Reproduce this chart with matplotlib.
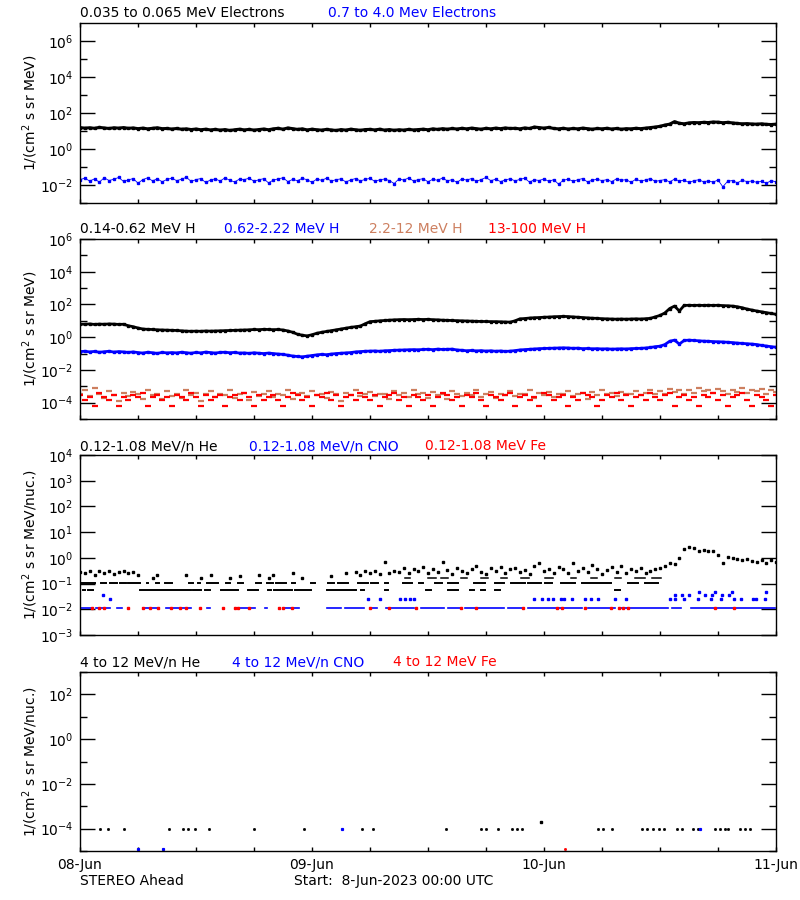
import numpy as np
import matplotlib
matplotlib.use('Agg')
import matplotlib.pyplot as plt
from matplotlib.ticker import FixedLocator, LogFormatterMathtext, NullFormatter

plt.rcParams['font.family'] = ['DejaVu Sans']
plt.rcParams['mathtext.fontset'] = 'dejavusans'
plt.rcParams['font.size'] = 10

# half-hour time steps, hours since 8-Jun-2023 00:00 UTC
hours = np.arange(0, 72.5, 0.5)
day_labels = ['08-Jun', '09-Jun', '10-Jun', '11-Jun']

# ---- panel 1: electrons, log10 flux ----
e_low_log = [1.19, 1.16, 1.18, 1.15, 1.2, 1.17, 1.14, 1.18, 1.16, 1.19,
             1.15, 1.17, 1.13, 1.16, 1.12, 1.15, 1.18, 1.13, 1.14, 1.11,
             1.14, 1.1, 1.12, 1.08, 1.11, 1.07, 1.1, 1.06, 1.09, 1.05,
             1.08, 1.03, 1.07, 1.1, 1.06, 1.09, 1.05, 1.08, 1.11, 1.07,
             1.12, 1.15, 1.1, 1.17, 1.13, 1.09, 1.12, 1.06, 1.1, 1.07,
             1.05, 1.09, 1.06, 1.03, 1.08, 1.05, 1.1, 1.07, 1.04, 1.08,
             1.09, 1.06, 1.1, 1.05, 1.08, 1.04, 1.07, 1.05, 1.09, 1.06,
             1.08, 1.1, 1.07, 1.12, 1.09, 1.13, 1.1, 1.14, 1.11, 1.15,
             1.12, 1.16, 1.13, 1.1, 1.15, 1.12, 1.16, 1.13, 1.17, 1.14,
             1.15, 1.12, 1.17, 1.14, 1.22, 1.19, 1.16, 1.2, 1.14, 1.12,
             1.15, 1.11, 1.14, 1.12, 1.16, 1.13, 1.1, 1.14, 1.12, 1.15,
             1.11, 1.14, 1.1, 1.13, 1.12, 1.15, 1.13, 1.16, 1.19, 1.22,
             1.26, 1.33, 1.38, 1.52, 1.43, 1.4, 1.45, 1.47, 1.46, 1.48,
             1.47, 1.5, 1.49, 1.46, 1.48, 1.45, 1.42, 1.4, 1.41, 1.39,
             1.38, 1.4, 1.37, 1.36, 1.38]
e_high_log = [-1.7, -1.62, -1.78, -1.66, -1.84, -1.6, -1.75, -1.68, -1.58, -1.8,
              -1.72, -1.64, -1.9, -1.7, -1.6, -1.77, -1.66, -1.82, -1.69, -1.62,
              -1.76, -1.68, -1.57, -1.8, -1.7, -1.64, -1.86, -1.72, -1.66, -1.78,
              -1.6, -1.74, -1.83, -1.67, -1.7, -1.62, -1.79, -1.71, -1.65, -1.88,
              -1.73, -1.66, -1.6, -1.81, -1.69, -1.76, -1.63, -1.71, -1.85, -1.67,
              -1.74, -1.62, -1.78, -1.7, -1.66, -1.83, -1.72, -1.64, -1.77, -1.69,
              -1.63, -1.8, -1.71, -1.67, -1.75, -1.92, -1.66, -1.73, -1.6, -1.78,
              -1.7, -1.65, -1.82, -1.68, -1.74, -1.61, -1.77, -1.7, -1.86, -1.66,
              -1.73, -1.64, -1.79, -1.7, -1.58, -1.76, -1.68, -1.81, -1.72, -1.65,
              -1.77, -1.69, -1.62, -1.84, -1.71, -1.75, -1.66, -1.8, -1.7, -1.95,
              -1.74, -1.67, -1.79, -1.71, -1.64, -1.83, -1.73, -1.68, -1.76, -1.7,
              -1.81, -1.66, -1.74, -1.7, -1.85, -1.68, -1.78, -1.72, -1.64, -1.8,
              -1.75, -1.7, -1.83, -1.67, -1.78, -1.73, -1.86, -1.76, -1.71, -1.82,
              -1.77, -1.84, -1.72, -2.1, -1.79, -1.75, -1.88, -1.74, -1.81, -1.78,
              -1.85, -1.79, -1.9, -1.76, -1.82]

# ---- panel 2: protons, log10 flux ----
h1_log = [0.8, 0.79, 0.81, 0.78, 0.8, 0.79, 0.81, 0.8, 0.78, 0.79,
          0.7, 0.64, 0.56, 0.5, 0.48, 0.47, 0.45, 0.44, 0.43, 0.42,
          0.41, 0.39, 0.37, 0.36, 0.37, 0.36, 0.38, 0.37, 0.38, 0.39,
          0.4, 0.41, 0.42, 0.43, 0.44, 0.45, 0.47, 0.46, 0.48, 0.47,
          0.46, 0.47, 0.44, 0.38, 0.3, 0.18, 0.12, 0.08, 0.15, 0.24,
          0.3, 0.35, 0.4, 0.45, 0.5, 0.55, 0.6, 0.64, 0.68, 0.82,
          0.95, 0.97, 1.0, 1.02, 1.04, 1.06, 1.07, 1.08, 1.07, 1.08,
          1.09, 1.08, 1.09, 1.07, 1.06, 1.04, 1.03, 1.02, 1.01, 1.0,
          0.99, 0.98, 0.97, 0.96, 0.96, 0.95, 0.95, 0.94, 0.93, 0.92,
          1.0, 1.12, 1.14, 1.17, 1.19, 1.2, 1.22, 1.23, 1.25, 1.26,
          1.27, 1.26, 1.24, 1.22, 1.2, 1.18, 1.16, 1.15, 1.13, 1.12,
          1.11, 1.1, 1.11, 1.1, 1.11, 1.12, 1.11, 1.13, 1.15, 1.24,
          1.33, 1.48, 1.75, 1.9, 1.6, 1.94, 1.95, 1.94, 1.95, 1.94,
          1.95, 1.94, 1.95, 1.93, 1.92, 1.9, 1.86, 1.8, 1.72, 1.66,
          1.6, 1.55, 1.5, 1.45, 1.4]
h2_log = [-0.88, -0.86, -0.9, -0.87, -0.92, -0.89, -0.86, -0.91, -0.88, -0.9,
          -0.93, -0.9, -0.94, -0.97, -0.92, -0.95, -0.99, -0.93, -0.96, -0.94,
          -0.96, -0.92, -0.95, -0.98, -0.93, -0.96, -0.91, -0.94, -0.97, -0.93,
          -0.92, -0.95, -0.93, -0.97, -0.96, -0.99, -0.95, -0.98, -1.0, -0.97,
          -1.0, -1.03, -1.05, -1.1, -1.15, -1.18, -1.2, -1.16, -1.12, -1.08,
          -1.05, -1.07, -1.03, -1.0, -0.98, -0.96, -0.94, -0.9, -0.88, -0.86,
          -0.85, -0.84, -0.86, -0.83, -0.82, -0.8, -0.79, -0.78, -0.77, -0.76,
          -0.77, -0.75, -0.74, -0.76, -0.73, -0.75, -0.74, -0.73, -0.78, -0.8,
          -0.83, -0.81, -0.84, -0.82, -0.85, -0.83, -0.86, -0.84, -0.87, -0.85,
          -0.82, -0.78, -0.76, -0.74, -0.72, -0.7, -0.69, -0.68, -0.67, -0.66,
          -0.65, -0.66, -0.68, -0.67, -0.7, -0.69, -0.71, -0.7, -0.72, -0.71,
          -0.73, -0.72, -0.71, -0.72, -0.7, -0.69, -0.68, -0.66, -0.63, -0.58,
          -0.55, -0.45, -0.25, -0.18, -0.42, -0.2, -0.18, -0.2, -0.22, -0.24,
          -0.25, -0.27, -0.28, -0.29, -0.31, -0.33, -0.36, -0.38, -0.4, -0.42,
          -0.45, -0.5, -0.54, -0.58, -0.61]
h3_log = [-3.5, -3.2, -3.6, -3.1, -3.45, -3.7, -3.3, -3.55, -3.9, -3.4,
          -3.6, -3.35, -3.5, -3.75, -3.25, -3.55, -3.45, -3.8, -3.3, -3.6,
          -3.5, -3.7, -3.2, -3.55, -3.4, -3.9, -3.5, -3.3, -3.65, -3.45,
          -3.55, -3.25, -3.7, -3.5, -3.4, -3.85, -3.35, -3.6, -3.5, -3.3,
          -3.65, -3.45, -3.55, -3.2, -3.75, -3.5, -3.4, -3.6, -3.3, -3.55,
          -3.45, -3.7, -3.35, -3.5, -3.9, -3.4, -3.55, -3.25, -3.6, -3.5,
          -3.35, -3.6, -3.5, -3.45, -3.75, -3.3, -3.55, -3.4, -3.65, -3.2,
          -3.5, -3.4, -3.7, -3.35, -3.55, -3.45, -3.8, -3.3, -3.5, -3.6,
          -3.4, -3.55, -3.25, -3.65, -3.5, -3.35, -3.7, -3.45, -3.55, -3.3,
          -3.6, -3.45, -3.5, -3.2, -3.7, -3.4, -3.55, -3.35, -3.65, -3.5,
          -3.45, -3.3, -3.6, -3.5, -3.4, -3.75, -3.35, -3.55, -3.25, -3.5,
          -3.4, -3.6, -3.35, -3.5, -3.45, -3.3, -3.55, -3.4, -3.2, -3.5,
          -3.3, -3.45, -3.15, -3.35, -3.25, -3.5, -3.2, -3.4, -3.1, -3.3,
          -3.25, -3.4, -3.15, -3.3, -3.5, -3.2, -3.35, -3.1, -3.4, -3.25,
          -3.3, -3.15, -3.45, -3.2, -3.35]
h4_log = [-3.55, -3.82, -3.68, -4.22, -3.41, -3.68, -3.82, -3.55, -4.22, -3.68,
          -3.82, -3.55, -3.68, -3.41, -4.22, -3.68, -3.55, -3.82, -3.68, -4.22,
          -3.55, -3.68, -3.82, -3.41, -3.68, -4.22, -3.55, -3.82, -3.68, -3.55,
          -4.22, -3.68, -3.55, -3.82, -3.41, -3.68, -4.22, -3.55, -3.82, -3.68,
          -3.55, -3.82, -4.22, -3.68, -3.41, -3.55, -3.82, -3.68, -4.22, -3.55,
          -3.68, -3.41, -3.82, -3.55, -4.22, -3.68, -3.55, -3.82, -3.41, -3.68,
          -3.82, -3.55, -4.22, -3.68, -3.55, -3.41, -3.82, -3.68, -4.22, -3.55,
          -3.68, -3.82, -3.55, -4.22, -3.68, -3.41, -3.55, -3.82, -3.68, -4.22,
          -3.55, -3.68, -3.41, -3.82, -4.22, -3.55, -3.68, -3.82, -3.55, -3.41,
          -4.22, -3.68, -3.55, -3.82, -3.68, -4.22, -3.41, -3.55, -3.82, -3.68,
          -3.55, -4.22, -3.68, -3.82, -3.41, -3.55, -3.68, -4.22, -3.82, -3.55,
          -3.68, -3.41, -3.82, -3.55, -4.22, -3.68, -3.55, -3.82, -3.41, -3.68,
          -3.82, -3.55, -3.41, -4.22, -3.68, -3.55, -3.82, -3.68, -4.22, -3.55,
          -3.68, -3.41, -3.82, -3.55, -4.22, -3.68, -3.55, -3.41, -3.82, -4.22,
          -3.55, -3.68, -3.82, -4.22, -3.55]

# ---- panel 3: 0.12-1.08 MeV/n heavy ions ----
nan = np.nan
he_upper_log = [-0.55, -0.6, -0.5, -0.65, -0.53, -0.58, -0.5, -0.62, -0.55, -0.52,
                -0.6, -0.56, -0.65, nan, nan, -0.79, -0.66, nan, nan, nan,
                nan, nan, -0.66, nan, nan, -0.79, nan, -0.66, nan, nan,
                nan, -0.79, nan, -0.7, nan, nan, nan, -0.66, nan, -0.79,
                -0.66, nan, nan, nan, -0.6, nan, -0.79, nan, nan, nan,
                nan, nan, -0.7, nan, nan, -0.6, nan, -0.55, -0.66, -0.53,
                -0.6, -0.5, -0.62, -0.15, -0.58, -0.5, -0.55, -0.4, -0.6, -0.45,
                -0.52, -0.35, -0.6, -0.42, -0.55, -0.17, -0.48, -0.62, -0.38, -0.5,
                -0.58, -0.44, -0.3, -0.55, -0.62, -0.4, -0.5, -0.35, -0.6, -0.45,
                -0.38, -0.55, -0.48, -0.62, -0.3, -0.2, -0.52, -0.42, -0.58, -0.35,
                -0.45, -0.6, -0.2, -0.5, -0.38, -0.55, -0.26, -0.42, -0.62, -0.48,
                -0.36, -0.55, -0.3, -0.6, -0.45, -0.52, -0.4, -0.58, -0.5, -0.42,
                -0.4, -0.3, -0.2, -0.25, 0.0, 0.33, 0.42, 0.4, 0.26, 0.3,
                0.25, 0.28, 0.11, -0.2, 0.05, 0.0, -0.05, -0.1, -0.05, -0.12,
                -0.15, -0.1, -0.2, -0.08, -0.18]
# quantised count levels seen as dashed rows (start hour, end hour)
he_row0_val = 0.16
he_row0 = [(33.6, 34.1), (36.0, 36.8), (37.3, 38.1), (39.4, 40.0), (41.5, 42.2),
           (43.6, 44.2), (45.6, 46.4), (48.1, 48.9), (50.8, 51.3), (52.9, 53.5),
           (55.3, 56.0), (57.4, 58.4), (59.2, 60.1)]
he_row1_val = 0.105
he_row1 = [(0.1, 1.5), (2.2, 2.7), (3.1, 3.8), (4.1, 4.8), (5.0, 6.2), (6.9, 7.0),
           (7.9, 8.2), (8.8, 9.5), (11.3, 11.7), (12.2, 12.4), (13.1, 14.3),
           (15.1, 15.5), (16.3, 16.9), (18.2, 18.7), (19.3, 20.0), (20.3, 21.3),
           (21.9, 22.2), (23.9, 24.3), (25.7, 26.3), (26.7, 27.7), (28.8, 29.8),
           (30.1, 30.8), (31.5, 31.9), (33.4, 34.3), (35.1, 35.5), (36.7, 37.4),
           (38.1, 39.1), (40.8, 41.9), (42.9, 43.9), (44.6, 46.0), (46.3, 47.7),
           (48.1, 48.8), (49.8, 51.2), (51.9, 54.9), (56.7, 57.7), (58.4, 59.8)]
he_row2_val = 0.054
he_row2 = [(0.3, 0.5), (0.8, 1.3), (1.85, 1.85), (3.4, 3.4), (4.8, 4.8), (6.2, 11.5),
           (11.7, 12.5), (12.9, 13.4), (14.6, 16.3), (17.4, 18.4), (19.4, 19.8),
           (20.1, 21.9), (22.2, 23.9), (25.5, 28.6), (29.1, 29.4), (30.1, 30.1),
           (31.5, 31.9), (32.7, 32.7), (33.9, 33.9), (34.6, 34.6), (35.8, 36.3),
           (37.4, 37.4), (38.1, 39.1), (40.3, 40.8), (41.5, 41.9), (42.9, 43.4),
           (44.9, 44.9), (46.3, 46.3), (46.7, 46.7), (48.8, 48.8), (50.2, 50.2),
           (51.2, 51.2), (53.9, 53.9), (55.3, 55.9), (58.2, 58.2), (60.5, 60.5)]
cno_row_val = 0.011
cno_row = [(0.1, 1.3), (1.7, 3.1), (3.8, 4.3), (6.5, 8.2), (8.9, 11.5), (13.1, 13.4),
           (16.0, 18.1), (19.1, 19.3), (21.0, 22.7), (25.5, 27.0), (27.4, 29.4),
           (30.0, 30.7), (31.7, 34.6), (35.3, 37.7), (38.1, 39.4), (39.8, 43.9),
           (44.3, 45.7), (46.3, 51.9), (52.5, 55.3), (56.0, 60.8), (61.2, 62.2),
           (63.2, 71.9)]
cno_pt_hours = [2.4, 3.1, 29.8, 31.0, 33.1, 33.6, 34.1, 34.5, 47.0, 47.8, 48.4, 48.9,
                49.8, 50.1, 50.9, 52.2, 52.9, 53.6, 55.3, 56.5, 61.0, 61.5, 61.6, 62.3,
                62.5, 63.0, 63.9, 64.0, 64.7, 65.3, 65.4, 65.7, 66.3, 66.4, 67.1, 67.4,
                67.7, 68.4, 69.6, 69.9, 70.9, 71.0]
cno_pt_log = [-1.44, -1.6, -1.6, -1.6, -1.6, -1.6, -1.6, -1.6, -1.6, -1.6, -1.6, -1.6,
              -1.6, -1.6, -1.6, -1.6, -1.6, -1.6, -1.6, -1.6, -1.6, -1.6, -1.44, -1.44,
              -1.6, -1.44, -1.6, -1.31, -1.44, -1.6, -1.44, -1.31, -1.6, -1.44, -1.44, -1.31,
              -1.6, -1.6, -1.6, -1.6, -1.6, -1.31]
fe_hours = [1.2, 2.0, 2.5, 5.0, 6.5, 7.2, 8.1, 9.4, 10.3, 11.0, 12.4, 14.8, 16.0, 16.3,
            17.5, 20.6, 21.0, 21.9, 30.0, 32.0, 34.8, 39.4, 41.0, 45.8, 49.3, 49.9,
            52.2, 54.9, 55.8, 56.2, 56.7, 65.7, 67.7]
fe_val = 0.011

# ---- panel 4: 4-12 MeV/n heavy ions ----
he4_hours = [2.07, 2.93, 4.55, 9.24, 10.69, 11.21, 11.9, 13.38, 18.03, 23.2, 29.2, 30.3,
             37.83, 41.49, 42.0, 43.28, 44.66, 45.24, 45.7, 53.62, 54.14, 55.0,
             58.11, 58.62, 59.31, 59.93, 60.45, 61.73, 62.25, 63.45, 63.9, 65.69,
             66.21, 66.72, 67.07, 68.28, 68.79, 69.31]
he4_val = 1e-4
he4_big_hour = 47.7
he4_big_val = 1.9e-4
cno4_hours = [6.03, 8.55, 27.07, 64.1]
cno4_vals = [1.2e-5, 1.2e-5, 1e-4, 1e-4]
fe4_hours = [50.2]
fe4_vals = [1.2e-5]

brown = '#cd7f5f'

W, H = 800, 900
fig = plt.figure(figsize=(8, 9), dpi=100)


def px_text(x, y, s, color='black', ha='left'):
    fig.text(x / W, 1 - y / H, s, color=color, ha=ha, va='center', fontsize=10)


def make_axes(top, bottom, ylo, yhi, majors, minors, ylabel):
    ax = fig.add_axes([80 / W, 1 - bottom / H, 696 / W, (bottom - top) / H])
    ax.set_yscale('log')
    ax.set_xlim(0, 72)
    ax.set_ylim(ylo, yhi)
    ax.yaxis.set_major_locator(FixedLocator(majors))
    ax.yaxis.set_minor_locator(FixedLocator(minors))
    ax.yaxis.set_major_formatter(LogFormatterMathtext())
    ax.yaxis.set_minor_formatter(NullFormatter())
    ax.xaxis.set_major_locator(FixedLocator([0, 24, 48, 72]))
    ax.xaxis.set_minor_locator(FixedLocator([6, 12, 18, 30, 36, 42, 54, 60, 66]))
    ax.xaxis.set_major_formatter(NullFormatter())
    ax.tick_params(axis='y', which='major', direction='in', length=10.8, width=1,
                   left=True, right=True, labelsize=10, pad=5)
    ax.tick_params(axis='y', which='minor', direction='in', length=5, width=1,
                   left=True, right=True)
    ax.tick_params(axis='x', which='both', direction='in', length=3, width=1,
                   top=True, bottom=True)
    for sp in ax.spines.values():
        sp.set_linewidth(1)
    ax.set_ylabel(ylabel, fontsize=10)
    ax.yaxis.set_label_coords(-0.058, 0.5)
    return ax


def rows(ax, segs, val, color, lw=1.4):
    lc = ax.hlines([val] * len(segs), [s[0] for s in segs], [s[1] for s in segs],
                   colors=color, lw=lw)
    lc.set_capstyle('projecting')


# panel 1
ax1 = make_axes(23, 203, 1e-3, 1e7, [1e-2, 1, 1e2, 1e4, 1e6], [1e-3, 1e-1, 1e1, 1e3, 1e5],
                '1/(cm$^2$ s sr MeV)')
ax1.plot(hours, 10 ** np.array(e_low_log), color='black', lw=2.2)
ax1.plot(hours, 10 ** np.array(e_low_log), 's', color='black', ms=1.8)
ax1.plot(hours, 10 ** np.array(e_high_log), color='blue', lw=0.6)
ax1.plot(hours, 10 ** np.array(e_high_log), 's', color='blue', ms=1.8)
px_text(80, 13, '0.035 to 0.065 MeV Electrons')
px_text(328, 13, '0.7 to 4.0 Mev Electrons', 'blue')

# panel 2
ax2 = make_axes(239, 419, 1e-5, 1e6, [1e-4, 1e-2, 1, 1e2, 1e4, 1e6],
                [1e-5, 1e-3, 1e-1, 1e1, 1e3, 1e5], '1/(cm$^2$ s sr MeV)')
ax2.plot(hours, 10 ** np.array(h3_log), '_', color=brown, ms=4, mew=1.6)
ax2.plot(hours, 10 ** np.array(h4_log), '_', color='red', ms=4, mew=1.6)
ax2.plot(hours, 10 ** np.array(h2_log), color='blue', lw=2)
ax2.plot(hours, 10 ** np.array(h2_log), 's', color='blue', ms=1.8)
ax2.plot(hours, 10 ** np.array(h1_log), color='black', lw=2)
ax2.plot(hours, 10 ** np.array(h1_log), 's', color='black', ms=1.8)
px_text(80, 229, '0.14-0.62 MeV H')
px_text(224, 229, '0.62-2.22 MeV H', 'blue')
px_text(369, 229, '2.2-12 MeV H', brown)
px_text(488, 229, '13-100 MeV H', 'red')

# panel 3
ax3 = make_axes(455, 635, 1e-3, 1e4, [1e-3, 1e-2, 1e-1, 1, 1e1, 1e2, 1e3, 1e4], [],
                '1/(cm$^2$ s sr MeV/nuc.)')
rows(ax3, cno_row, cno_row_val, 'blue', lw=1.2)
ax3.plot(cno_pt_hours, 10 ** np.array(cno_pt_log), 's', color='blue', ms=1.6)
ax3.plot(fe_hours, [fe_val] * len(fe_hours), 's', color='red', ms=1.6)
rows(ax3, he_row2, he_row2_val, 'black')
rows(ax3, he_row1, he_row1_val, 'black')
rows(ax3, he_row0, he_row0_val, 'black', lw=1.1)
ax3.plot(hours, 10 ** np.array(he_upper_log), 's', color='black', ms=2)
px_text(80, 446, '0.12-1.08 MeV/n He')
px_text(249, 446, '0.12-1.08 MeV/n CNO', 'blue')
px_text(425, 446, '0.12-1.08 MeV Fe', 'red')

# panel 4
ax4 = make_axes(672, 851, 1e-5, 1e3, [1e-4, 1e-2, 1, 1e2], [1e-5, 1e-3, 1e-1, 1e1, 1e3],
                '1/(cm$^2$ s sr MeV/nuc.)')
ax4.plot(he4_hours, [he4_val] * len(he4_hours), 's', color='black', ms=1.0)
ax4.plot([he4_big_hour], [he4_big_val], 's', color='black', ms=1.8)
ax4.plot(cno4_hours, cno4_vals, 's', color='blue', ms=1.3)
ax4.plot(fe4_hours, fe4_vals, 's', color='red', ms=1.0)
ax4.xaxis.set_major_formatter(plt.FixedFormatter(day_labels))
ax4.tick_params(axis='x', which='major', labelsize=10, pad=5)
px_text(80, 662, '4 to 12 MeV/n He')
px_text(232, 662, '4 to 12 MeV/n CNO', 'blue')
px_text(393, 662, '4 to 12 MeV Fe', 'red')

px_text(80, 881, 'STEREO Ahead')
px_text(294, 881, 'Start:  8-Jun-2023 00:00 UTC')

fig.savefig('out.png', dpi=100)
